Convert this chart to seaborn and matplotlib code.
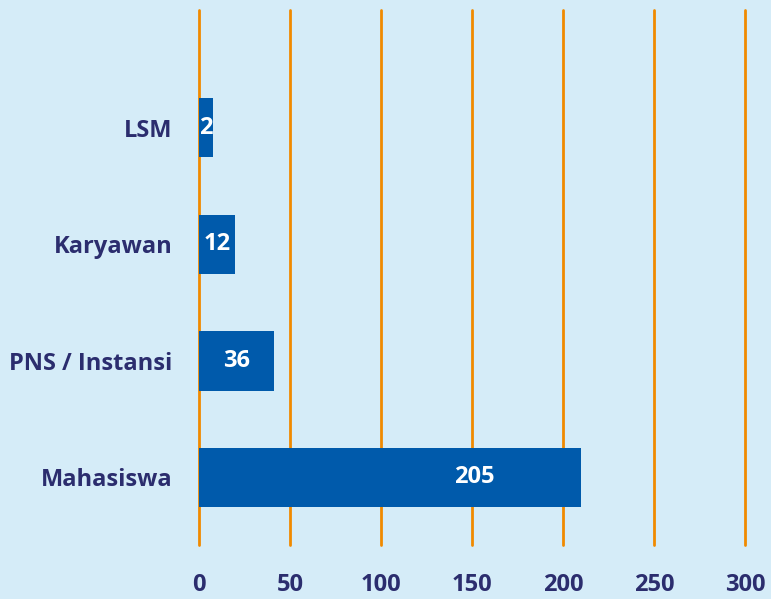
import numpy as np
import pandas as pd
import seaborn as sns
import matplotlib.pyplot as plt

# data
categories = ['LSM', 'Karyawan', 'PNS / Instansi', 'Mahasiswa']
counts = [2, 12, 36, 205]            # printed labels
bar_length = [7.5, 20, 41, 210]      # bar lengths as drawn
x_ticks = [0, 50, 100, 150, 200, 250, 300]

bg = '#d5ecf8'
bar_col = '#005aab'
grid_col = '#f08a00'
text_col = '#2b2d6e'

sns.set_theme(style='white')
plt.rcParams['font.family'] = ['Open Sans', 'DejaVu Sans']

df = pd.DataFrame({'kategori': categories, 'jumlah': bar_length})

fig = plt.figure(figsize=(7.71, 5.99), dpi=100, facecolor=bg)
ax = fig.add_axes([199 / 771, 1 - 545 / 599, 546 / 771, 535 / 599])
ax.set_facecolor(bg)

for x in x_ticks:
    ax.axvline(x, color=grid_col, lw=2, zorder=0, clip_on=False)

sns.barplot(data=df, y='kategori', x='jumlah', orient='h', color=bar_col,
            width=0.51, saturation=1, linewidth=0, ax=ax, zorder=2)

for i, (n, L) in enumerate(zip(counts, bar_length)):
    xt = L / 2 if L < 100 else 0.72 * L
    ax.text(xt, i, str(n), color='white', fontsize=17,
            fontweight='bold', ha='center', va='center', zorder=3)

ax.set_xlim(0, 300)
ax.set_ylim(3.58, -1.01)
ax.set_xticks(x_ticks)
ax.set_xlabel('')
ax.set_ylabel('')
for s in ax.spines.values():
    s.set_visible(False)
ax.tick_params(axis='x', length=0, pad=20, labelsize=17, labelcolor=text_col)
ax.tick_params(axis='y', length=0, pad=19, labelsize=17, labelcolor=text_col)
for lab in ax.get_xticklabels() + ax.get_yticklabels():
    lab.set_fontweight('bold')

fig.savefig('out.png', dpi=100, facecolor=bg)
